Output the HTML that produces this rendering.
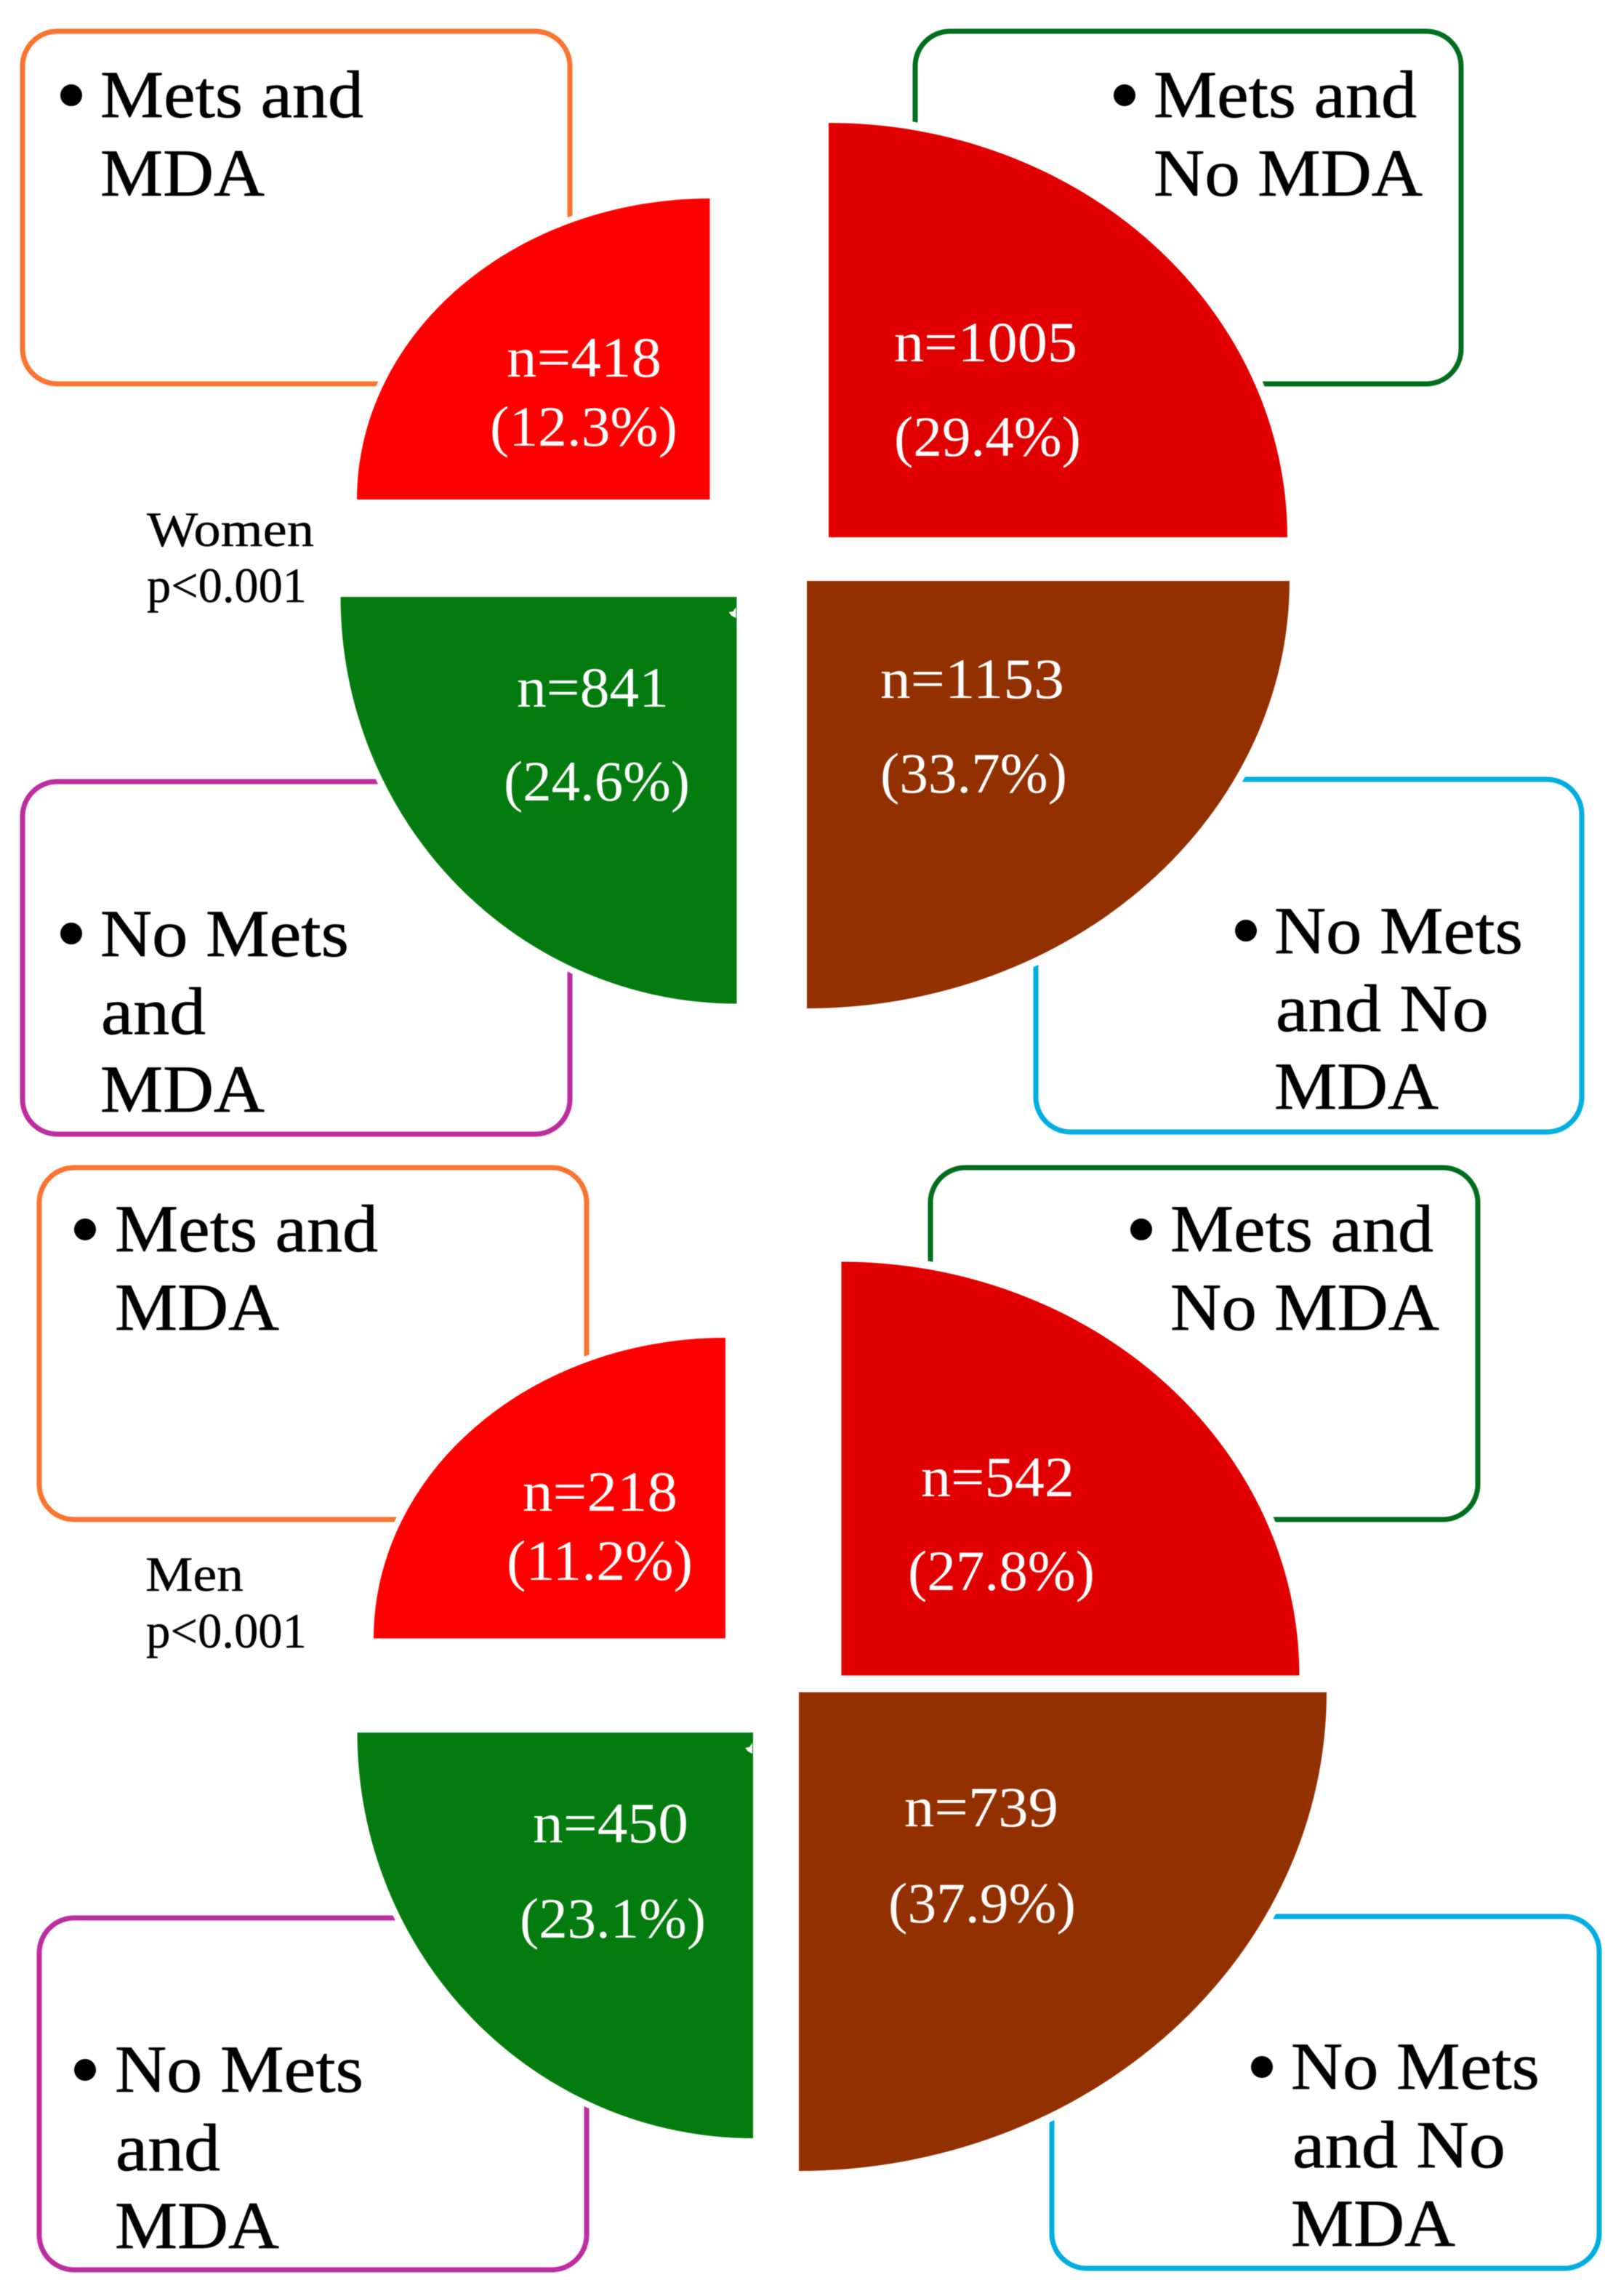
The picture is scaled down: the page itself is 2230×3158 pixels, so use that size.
<!DOCTYPE html>
<html lang="en">
<head>
<meta charset="utf-8">
<title>Metabolic syndrome and MDA by sex</title>
<style>
html,body{margin:0;padding:0;background:#fff;}
svg{display:block;filter:blur(0.5px);}
text{font-family:"Liberation Serif",serif;}
.legend{font-size:92px;fill:#000;stroke:#000;stroke-width:0.7;}
.note{font-size:68px;fill:#000;stroke:#000;stroke-width:0.4;}
.box{fill:#fff;stroke-width:7;}
</style>
</head>
<body>
<svg id="chart" width="2230" height="3158" viewBox="0 0 2230 3158" xmlns="http://www.w3.org/2000/svg">
  <rect x="0" y="0" width="2230" height="3158" fill="#ffffff"/>

  <g>
    <rect class="box" x="31" y="43" width="753" height="485" rx="48" ry="48" stroke="#F97430"/>
    <rect class="box" x="1259" y="43" width="751" height="485" rx="48" ry="48" stroke="#006E1C"/>
    <rect class="box" x="31" y="1075" width="753" height="485" rx="48" ry="48" stroke="#BC2E9E"/>
    <rect class="box" x="1425" y="1072" width="751" height="485" rx="48" ry="48" stroke="#00AEE0"/>
  </g>
  <g>
    <rect class="box" x="54" y="1606" width="753" height="484" rx="48" ry="48" stroke="#F97430"/>
    <rect class="box" x="1280" y="1606" width="753" height="484" rx="48" ry="48" stroke="#006E1C"/>
    <rect class="box" x="54" y="2638" width="753" height="484" rx="48" ry="48" stroke="#BC2E9E"/>
    <rect class="box" x="1447" y="2636" width="753" height="484" rx="48" ry="48" stroke="#00AEE0"/>
  </g>

  <g id="slices"></g>
  <g id="slice-labels"></g>

  <g>
    <circle cx="98" cy="131" r="15" fill="#000"/>
    <text class="legend" x="138" y="161" textLength="362" lengthAdjust="spacingAndGlyphs">Mets and</text>
    <text class="legend" x="138" y="269" textLength="226" lengthAdjust="spacingAndGlyphs">MDA</text>

    <circle cx="1547" cy="131" r="15" fill="#000"/>
    <text class="legend" x="1587" y="161" textLength="362" lengthAdjust="spacingAndGlyphs">Mets and</text>
    <text class="legend" x="1587" y="269" textLength="370" lengthAdjust="spacingAndGlyphs">No MDA</text>

    <circle cx="98" cy="1284" r="15" fill="#000"/>
    <text class="legend" x="138" y="1315" textLength="342" lengthAdjust="spacingAndGlyphs">No Mets</text>
    <text class="legend" x="139" y="1422" textLength="144" lengthAdjust="spacingAndGlyphs">and</text>
    <text class="legend" x="138" y="1529" textLength="226" lengthAdjust="spacingAndGlyphs">MDA</text>

    <circle cx="1714" cy="1280" r="15" fill="#000"/>
    <text class="legend" x="1753" y="1311" textLength="342" lengthAdjust="spacingAndGlyphs">No Mets</text>
    <text class="legend" x="1755" y="1418" textLength="293" lengthAdjust="spacingAndGlyphs">and No</text>
    <text class="legend" x="1753" y="1525" textLength="226" lengthAdjust="spacingAndGlyphs">MDA</text>
  </g>

  <g>
    <circle cx="117" cy="1691" r="15" fill="#000"/>
    <text class="legend" x="158" y="1721" textLength="362" lengthAdjust="spacingAndGlyphs">Mets and</text>
    <text class="legend" x="158" y="1829" textLength="226" lengthAdjust="spacingAndGlyphs">MDA</text>

    <circle cx="1570" cy="1691" r="15" fill="#000"/>
    <text class="legend" x="1610" y="1721" textLength="362" lengthAdjust="spacingAndGlyphs">Mets and</text>
    <text class="legend" x="1610" y="1829" textLength="370" lengthAdjust="spacingAndGlyphs">No MDA</text>

    <circle cx="117" cy="2847" r="15" fill="#000"/>
    <text class="legend" x="158" y="2877" textLength="342" lengthAdjust="spacingAndGlyphs">No Mets</text>
    <text class="legend" x="159" y="2985" textLength="144" lengthAdjust="spacingAndGlyphs">and</text>
    <text class="legend" x="158" y="3092" textLength="226" lengthAdjust="spacingAndGlyphs">MDA</text>

    <circle cx="1736" cy="2843" r="15" fill="#000"/>
    <text class="legend" x="1776" y="2873" textLength="342" lengthAdjust="spacingAndGlyphs">No Mets</text>
    <text class="legend" x="1778" y="2981" textLength="293" lengthAdjust="spacingAndGlyphs">and No</text>
    <text class="legend" x="1776" y="3089" textLength="226" lengthAdjust="spacingAndGlyphs">MDA</text>
  </g>

  <text class="note" x="202" y="751" textLength="230" lengthAdjust="spacingAndGlyphs">Women</text>
  <text class="note" x="202" y="828" textLength="220" lengthAdjust="spacingAndGlyphs">p&lt;0.001</text>
  <text class="note" x="200" y="2188" textLength="135" lengthAdjust="spacingAndGlyphs">Men</text>
  <text class="note" x="201" y="2266" textLength="221" lengthAdjust="spacingAndGlyphs">p&lt;0.001</text>
</svg>
<script>
// Data, in order: Mets and MDA, Mets and No MDA, No Mets and MDA, No Mets and No MDA
const categories = ['mets-mda', 'mets-no-mda', 'no-mets-mda', 'no-mets-no-mda'];
const womenCounts = [418, 1005, 841, 1153];
const womenPercents = [12.3, 29.4, 24.6, 33.7];
const menCounts = [218, 542, 450, 739];
const menPercents = [11.2, 27.8, 23.1, 37.9];

// Radial axis: percent to horizontal / vertical slice radius.
const radiusDomain = [11.2, 12.3, 23.1, 24.6, 27.8, 29.4, 33.7, 37.9];
const radiusXRange = [484, 485.5, 544.5, 545, 630, 631, 664, 726];
const radiusYRange = [413.5, 414, 558, 559.5, 569, 570, 588, 658.5];

function scalePiecewise(domain, range, v) {
  let i = 0;
  while (i < domain.length - 2 && v > domain[i + 1]) i++;
  const t = (v - domain[i]) / (domain[i + 1] - domain[i]);
  return Math.max(0, range[i] + t * (range[i + 1] - range[i]));
}
function radiusX(v) { return scalePiecewise(radiusDomain, radiusXRange, v); }
function radiusY(v) { return scalePiecewise(radiusDomain, radiusYRange, v); }

const SVG_NS = 'http://www.w3.org/2000/svg';
const sliceFills = ['#FF0000', '#E00000', '#037B0E', '#933000'];
const sliceHalos = [17, 22, 17, 22];
const directions = [[-1, -1], [1, -1], [-1, 1], [1, 1]];

const womenLayout = {
  name: 'women',
  corners: [[976.5, 687], [1140, 739], [1013.5, 821], [1110, 799]],
  countText: [[697, 518, 213], [1230, 497, 252], [711, 972, 209], [1211, 960, 253]],
  percentText: [[674, 613, 258], [1230, 627, 257], [693, 1101, 256], [1211, 1090, 257]]
};
const menLayout = {
  name: 'men',
  corners: [[998, 2253.5], [1157.5, 2304.5], [1036, 2383], [1099, 2327.5]],
  countText: [[719, 2078, 213], [1267, 2058, 211], [733, 2534, 214], [1244, 2512, 212]],
  percentText: [[697, 2173, 256], [1249, 2187, 257], [715, 2665, 256], [1222, 2644, 258]]
};

const sliceGroup = document.getElementById('slices');
const labelGroup = document.getElementById('slice-labels');

function addLabel(text, spot, name) {
  const el = document.createElementNS(SVG_NS, 'text');
  
  
  el.setAttribute('x', spot[0]);
  el.setAttribute('y', spot[1]);
  el.setAttribute('textLength', spot[2]);
  el.setAttribute('lengthAdjust', 'spacingAndGlyphs');
  el.setAttribute('font-size', '78');
  el.setAttribute('fill', '#ffffff');
  el.textContent = text;
  labelGroup.appendChild(el);
}

function drawPanel(layout, counts, percents) {
  percents.forEach(function (pct, i) {
    const cx = layout.corners[i][0];
    const cy = layout.corners[i][1];
    const sx = directions[i][0];
    const sy = directions[i][1];
    const rx = radiusX(pct);
    const ry = radiusY(pct);
    const sweep = sx * sy > 0 ? 1 : 0;
    const path = document.createElementNS(SVG_NS, 'path');
    
    
    path.setAttribute('d', 'M' + cx + ' ' + cy + 'L' + (cx + sx * rx) + ' ' + cy +
      'A' + rx + ' ' + ry + ' 0 0 ' + sweep + ' ' + cx + ' ' + (cy + sy * ry) + 'Z');
    path.setAttribute('fill', sliceFills[i]);
    path.setAttribute('stroke', '#ffffff');
    path.setAttribute('stroke-width', sliceHalos[i]);
    path.setAttribute('paint-order', 'stroke');
    sliceGroup.appendChild(path);

    addLabel('n=' + counts[i], layout.countText[i], layout.name + '-count-' + categories[i]);
    addLabel('(' + pct.toFixed(1) + '%)', layout.percentText[i], layout.name + '-percent-' + categories[i]);
  });

  // Small white notch near the inner corner of the green slice.
  const c = layout.corners[2];
  const notch = document.createElementNS(SVG_NS, 'polygon');
  
  
  notch.setAttribute('points', [[-1, 14], [-5, 20], [-11, 21], [-7, 26], [-1, 29]].map(function (p) {
    return (c[0] + p[0]) + ',' + (c[1] + p[1]);
  }).join(' '));
  notch.setAttribute('fill', '#ffffff');
  sliceGroup.appendChild(notch);
}

drawPanel(womenLayout, womenCounts, womenPercents);
drawPanel(menLayout, menCounts, menPercents);
</script>
</body>
</html>
